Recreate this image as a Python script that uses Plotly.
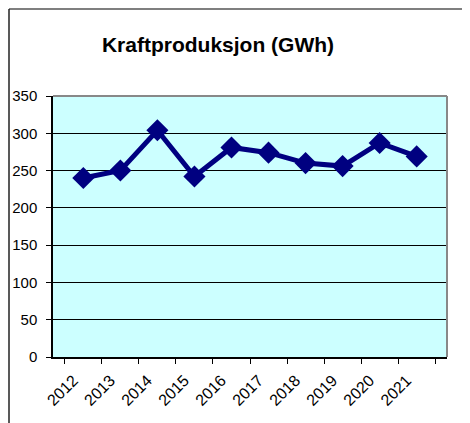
import plotly.graph_objects as go

years = ["2012", "2013", "2014", "2015", "2016", "2017", "2018", "2019", "2020", "2021"]
production = [240, 250, 304, 242, 281, 274, 260, 256, 287, 269]
y_ticks = [0, 50, 100, 150, 200, 250, 300, 350]

# page has an 8px body margin; figure coordinates are page coordinates minus 8
OFF = 8
W, H = 470, 423
L, R, T, B = 53 - OFF, W - (447 - OFF), 96 - OFF, H - (357 - OFF)
pw, ph = W - L - R, H - T - B

def px(x):
    return (x - OFF - L) / pw

def py(y):
    return (H - B - (y - OFF)) / ph

fig = go.Figure()
fig.add_trace(go.Scatter(
    x=years, y=production, mode="lines+markers",
    line=dict(color="#000080", width=5),
    marker=dict(symbol="diamond", size=17, color="#000080"),
    showlegend=False, cliponaxis=False,
))

fig.update_layout(
    width=W, height=H,
    margin=dict(l=L, r=R, t=T, b=B, autoexpand=False),
    paper_bgcolor="white", plot_bgcolor="#CCFFFF",
    font=dict(family="Liberation Sans, Arial, sans-serif", color="black", size=14),
    title=dict(text="<b>Kraftproduksjon (GWh)</b>", x=(218 - OFF) / W, xanchor="center",
               y=1 - (45 - OFF) / H, yanchor="middle", font=dict(size=21, color="black")),
    xaxis=dict(type="category", tickson="boundaries", ticks="outside", ticklen=5,
               tickcolor="black", tickangle=-45, showgrid=False, showline=True,
               linecolor="black", linewidth=1.5, tickfont=dict(size=16), automargin=False,
               ticklabelstandoff=6, ticklabelshift=-10),
    yaxis=dict(range=[0, 350], tickvals=y_ticks, ticks="outside", ticklen=5,
               tickcolor="black", showgrid=True, gridcolor="black", gridwidth=1,
               showline=True, linecolor="black", linewidth=1.5, zeroline=False,
               tickfont=dict(size=15), automargin=False, ticklabelstandoff=6),
    shapes=[
        dict(type="line", xref="paper", yref="paper", x0=0, x1=1, y0=1, y1=1,
             line=dict(color="#888888", width=2), layer="above"),
        dict(type="line", xref="paper", yref="paper", x0=1, x1=1, y0=0, y1=1,
             line=dict(color="#888888", width=2), layer="above"),
        dict(type="line", xref="paper", yref="paper", x0=px(9), x1=px(480), y0=py(9), y1=py(9),
             line=dict(color="#555555", width=1.5)),
        dict(type="line", xref="paper", yref="paper", x0=px(9), x1=px(9), y0=py(9), y1=py(440),
             line=dict(color="#222222", width=1.5)),
    ],
)

fig.write_html("out.html")
